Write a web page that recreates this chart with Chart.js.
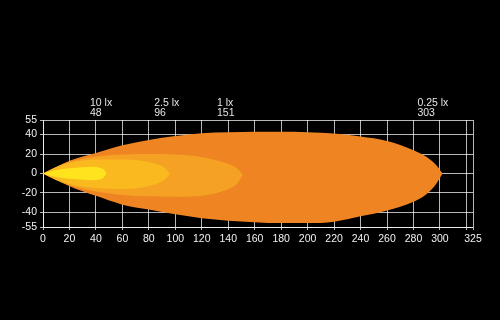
<!DOCTYPE html>
<html>
<head>
<meta charset="utf-8">
<script src="https://cdn.jsdelivr.net/npm/chart.js@4.4.1/dist/chart.umd.min.js"></script>
<style>
    html, body { margin: 0; padding: 0; background: #000; }
    #wrap { width: 500px; height: 320px; }
</style>
</head>
<body>
<div id="wrap"><canvas id="myChart" width="500" height="320"></canvas></div>
<script>
// isolux contours: distance (m) -> upper / lower width (m)
let lx10_x      = [0, 5, 10, 20, 30, 38, 43, 46, 48];
let lx10_top    = [0, 2, 3.5, 5.5, 6.5, 7, 6, 4, 0];
let lx10_bottom = [0, -2, -3.5, -5.5, -6.5, -7, -6, -4, 0];

let lx25_x      = [0, 10, 20, 40, 60, 75, 85, 92, 96];
let lx25_top    = [0, 6.5, 11, 14.5, 14.5, 13, 10, 6, 0];
let lx25_bottom = [0, -6.5, -11, -15, -16, -14.5, -11, -6.5, 0];

let lx1_x      = [0, 10, 20, 40, 60, 80, 100, 115, 130, 140, 147, 151];
let lx1_top    = [0, 7, 12, 17.5, 19.5, 20, 19.5, 18, 14, 10, 5, -1];
let lx1_bottom = [0, -7, -12, -18.5, -22, -23.5, -24, -23.5, -20.5, -16, -10, -1];

let lx025_x      = [0, 10, 20, 40, 60, 80, 100, 120, 140, 160, 180, 200, 220, 240, 260, 280, 290, 297, 302];
let lx025_top    = [0, 6.5, 13, 21, 29, 34.5, 38.5, 41.5, 42.5, 43, 43, 42.5, 41, 38, 33.5, 24, 17, 9, 0];
let lx025_bottom = [0, -6.5, -13, -23, -32, -37, -42, -46, -48.5, -50, -51, -51, -49.5, -44, -38, -29, -21, -11, 0];

let iso_labels = ['10 lx', '2.5 lx', '1 lx', '0.25 lx'];
let iso_reach = [48, 96, 151, 303];

let x_ticks = [0, 20, 40, 60, 80, 100, 120, 140, 160, 180, 200, 220, 240, 260, 280, 300, 320, 325];
let x_tick_labels = ['0', '20', '40', '60', '80', '100', '120', '140', '160', '180', '200', '220', '240', '260', '280', '300', '', '325'];
let y_ticks = [-55, -40, -20, 0, 20, 40, 55];

function points(xs, ys) {
    return xs.map((x, i) => ({x: x, y: ys[i]}));
}

function contour(xs, top, bottom, color) {
    return [{
        data: points(xs, top),
        fill: '+1',
        backgroundColor: color,
        borderWidth: 0,
        borderColor: color,
        pointRadius: 0,
        cubicInterpolationMode: 'monotone'
    }, {
        data: points(xs, bottom),
        fill: false,
        borderWidth: 0,
        borderColor: color,
        pointRadius: 0,
        cubicInterpolationMode: 'monotone'
    }];
}

// first dataset is painted last, so the brightest zone goes first
let datasets = [].concat(
    contour(lx10_x, lx10_top, lx10_bottom, '#FFE31C'),
    contour(lx25_x, lx25_top, lx25_bottom, '#F9B91F'),
    contour(lx1_x, lx1_top, lx1_bottom, '#F5A124'),
    contour(lx025_x, lx025_top, lx025_bottom, '#EF8423')
);

const tick_font = {family: '"Liberation Sans", Arial, sans-serif', size: 10.5};
const grid_color = 'rgba(255,255,255,0.72)';

const top_labels = {
    id: 'top_labels',
    afterDraw(chart) {
        const ctx = chart.ctx;
        const xs = chart.scales.x;
        const left = [35.5, 84, 131.5, 283];
        ctx.save();
        ctx.font = '10.5px "Liberation Sans", Arial, sans-serif';
        ctx.fillStyle = '#e4e4e4';
        ctx.textAlign = 'left';
        ctx.textBaseline = 'middle';
        iso_labels.forEach((txt, i) => {
            let px = xs.getPixelForValue(left[i]);
            ctx.fillText(txt, px, 103);
            ctx.fillText(String(iso_reach[i]), px, 113);
        });
        ctx.restore();
    }
};

new Chart(document.getElementById('myChart'), {
    type: 'line',
    data: {datasets: datasets},
    plugins: [top_labels],
    options: {
        responsive: false,
        animation: false,
        devicePixelRatio: 1,
        layout: {padding: {top: 120, left: 0, right: 27, bottom: 73}},
        plugins: {legend: {display: false}, tooltip: {enabled: false}},
        scales: {
            x: {
                type: 'linear',
                min: 0,
                max: 325,
                z: 1,
                afterFit: (s) => { s.height = 20; },
                afterBuildTicks: (s) => { s.ticks = x_ticks.map(v => ({value: v})); },
                grid: {color: grid_color, lineWidth: 1, tickLength: 3},
                border: {color: grid_color},
                ticks: {
                    autoSkip: false,
                    maxRotation: 0,
                    padding: 3,
                    color: '#f2f2f2',
                    font: tick_font,
                    callback: (v) => x_tick_labels[x_ticks.indexOf(v)]
                }
            },
            y: {
                type: 'linear',
                min: -55,
                max: 55,
                z: 1,
                afterFit: (s) => { s.width = 43; },
                afterBuildTicks: (s) => { s.ticks = y_ticks.map(v => ({value: v})); },
                grid: {color: grid_color, lineWidth: 1, tickLength: 3},
                border: {color: grid_color},
                ticks: {
                    autoSkip: false,
                    padding: 3,
                    color: '#f2f2f2',
                    font: tick_font
                }
            }
        }
    }
});
</script>
</body>
</html>
